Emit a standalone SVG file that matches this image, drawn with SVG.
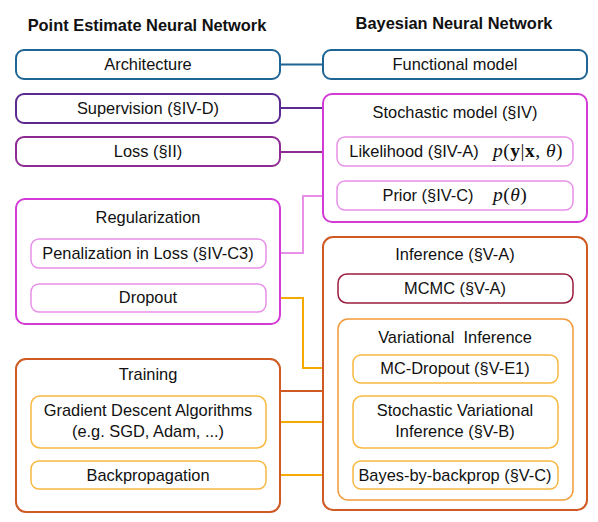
<svg xmlns="http://www.w3.org/2000/svg" width="598" height="522" viewBox="0 0 598 522">
<style>
text{font-family:"Liberation Sans",Arial,sans-serif;font-size:16.4px;fill:#111;text-anchor:middle}
.title{font-weight:bold}
.box{fill:#fff;stroke-width:2}
.inner{fill:#fff;stroke-width:1.5}
.math{font-family:"Liberation Serif","Times New Roman",serif;font-size:19.5px;text-anchor:start;letter-spacing:0.5px}
.conn{fill:none;stroke-width:2}
.blue{stroke:#1f6593}
.purple{stroke:#5a2a90}
.loss{stroke:#8e2a92}
.mag{stroke:#d43ad6}
.pink{stroke:#e890e8}
.red{stroke:#cf5a24}
.mcmc{stroke:#9a1c3e}
.vi{stroke:#f29a3a}
.yel{stroke:#f8b840}
.ora{stroke:#f5aa00}
</style>
<text class="title" x="147" y="31">Point Estimate Neural Network</text>
<text class="title" x="454" y="29">Bayesian Neural Network</text>

<g id="connectors">
<path class="conn blue" d="M280 64.5H323"/>
<path class="conn purple" d="M280 108H323"/>
<path class="conn loss" d="M280 152H337"/>
<path class="conn pink" d="M337 196H303V253H266"/>
<path class="conn ora" d="M266 298H303V368H353"/>
<path class="conn red" d="M280 391H323"/>
<path class="conn ora" d="M266 422H353"/>
<path class="conn ora" d="M266 475H353"/>
</g>

<g id="architecture"><rect class="box blue" x="16" y="50" width="264" height="29" rx="8"/><text x="148" y="70">Architecture</text></g>
<g id="functional-model"><rect class="box blue" x="323" y="50" width="264" height="29" rx="8"/><text x="455" y="70">Functional model</text></g>
<g id="supervision"><rect class="box purple" x="16" y="94" width="264" height="29" rx="8"/><text x="148" y="114">Supervision (§IV-D)</text></g>
<g id="loss"><rect class="box loss" x="16" y="137" width="264" height="29" rx="8"/><text x="148" y="157">Loss (§II)</text></g>

<g id="stochastic-model"><rect class="box mag" x="323" y="94" width="264" height="128" rx="9"/><text x="455" y="118">Stochastic model (§IV)</text></g>
<g id="likelihood"><rect class="inner pink" x="337" y="137" width="236" height="29" rx="8"/><text x="414" y="157">Likelihood (§IV-A)</text>
<text class="math" x="493" y="157"><tspan font-style="italic">p</tspan>(<tspan font-weight="bold">y</tspan>|<tspan font-weight="bold">x</tspan>, <tspan font-style="italic">θ</tspan>)</text></g>
<g id="prior"><rect class="inner pink" x="337" y="181" width="236" height="29" rx="8"/><text x="428" y="201">Prior (§IV-C)</text>
<text class="math" x="493" y="201"><tspan font-style="italic">p</tspan>(<tspan font-style="italic">θ</tspan>)</text></g>

<g id="regularization"><rect class="box mag" x="16" y="199" width="264" height="125" rx="9"/><text x="148" y="223">Regularization</text></g>
<g id="penalization"><rect class="inner pink" x="31" y="239" width="235" height="29" rx="8"/><text x="148" y="259">Penalization in Loss (§IV-C3)</text></g>
<g id="dropout"><rect class="inner pink" x="31" y="284" width="235" height="28" rx="8"/><text x="148" y="303">Dropout</text></g>

<g id="inference"><rect class="box red" x="323" y="237" width="264" height="273" rx="10"/><text x="455" y="260">Inference (§V-A)</text></g>
<g id="mcmc"><rect class="inner mcmc" x="338" y="274" width="235" height="29" rx="9"/><text x="455" y="294">MCMC (§V-A)</text></g>
<g id="variational-inference"><rect class="inner vi" x="338" y="319" width="235" height="181" rx="10"/><text x="455" y="343" xml:space="preserve">Variational  Inference</text></g>
<g id="mc-dropout"><rect class="inner yel" x="353" y="355" width="205" height="28" rx="8"/><text x="455" y="374">MC-Dropout (§V-E1)</text></g>
<g id="svi"><rect class="inner yel" x="353" y="396" width="205" height="52" rx="9"/><text x="455" y="416">Stochastic Variational</text><text x="455" y="437">Inference (§V-B)</text></g>
<g id="bayes-by-backprop"><rect class="inner yel" x="353" y="461" width="205" height="28" rx="8"/><text x="455" y="481">Bayes-by-backprop (§V-C)</text></g>

<g id="training"><rect class="box red" x="16" y="359" width="264" height="153" rx="10"/><text x="148" y="380">Training</text></g>
<g id="gradient-descent"><rect class="inner yel" x="31" y="396" width="235" height="52" rx="9"/><text x="148" y="416">Gradient Descent Algorithms</text><text x="148" y="437">(e.g. SGD, Adam, ...)</text></g>
<g id="backpropagation"><rect class="inner yel" x="31" y="461" width="235" height="28" rx="8"/><text x="148" y="481">Backpropagation</text></g>
</svg>
